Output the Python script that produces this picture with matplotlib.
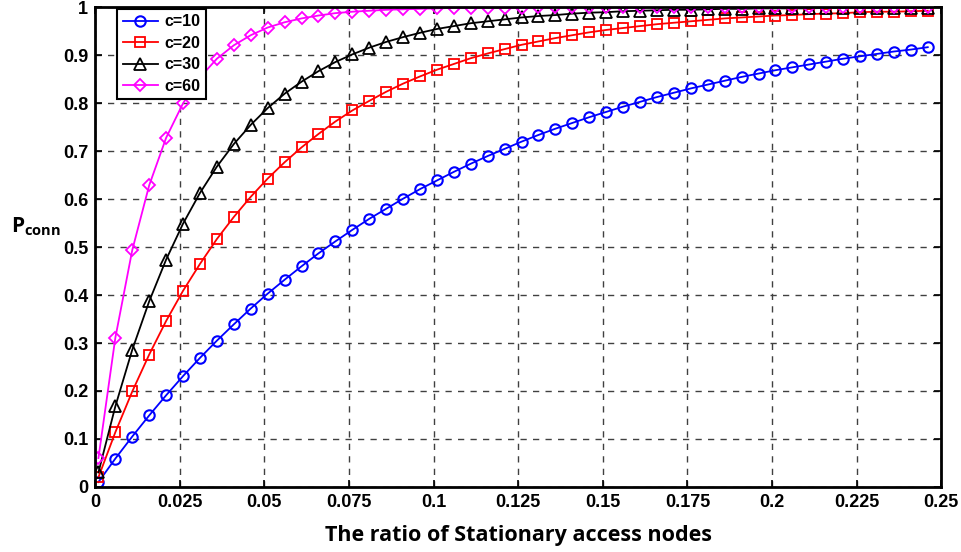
import matplotlib
matplotlib.use("Agg")
import matplotlib.pyplot as plt

# ratio of stationary access nodes (x samples)
ratio = [0.001, 0.006, 0.011, 0.016, 0.021, 0.026, 0.031, 0.036, 0.041, 0.046,
         0.051, 0.056, 0.061, 0.066, 0.071, 0.076, 0.081, 0.086, 0.091, 0.096,
         0.101, 0.106, 0.111, 0.116, 0.121, 0.126, 0.131, 0.136, 0.141, 0.146,
         0.151, 0.156, 0.161, 0.166, 0.171, 0.176, 0.181, 0.186, 0.191, 0.196,
         0.201, 0.206, 0.211, 0.216, 0.221, 0.226, 0.231, 0.236, 0.241, 0.246]

p_c10 = [0.010, 0.059, 0.105, 0.149, 0.191, 0.231, 0.269, 0.305, 0.339, 0.372,
         0.403, 0.432, 0.460, 0.487, 0.512, 0.536, 0.559, 0.580, 0.601, 0.621,
         0.639, 0.657, 0.674, 0.690, 0.705, 0.720, 0.734, 0.747, 0.759, 0.771,
         0.782, 0.793, 0.803, 0.813, 0.822, 0.831, 0.839, 0.847, 0.855, 0.862,
         0.869, 0.875, 0.881, 0.887, 0.893, 0.898, 0.903, 0.908, 0.912, 0.917]

p_c20 = [0.020, 0.114, 0.199, 0.276, 0.346, 0.409, 0.465, 0.517, 0.563, 0.605,
         0.643, 0.677, 0.708, 0.736, 0.762, 0.785, 0.805, 0.824, 0.841, 0.856,
         0.870, 0.882, 0.894, 0.904, 0.913, 0.922, 0.929, 0.936, 0.942, 0.948,
         0.953, 0.957, 0.961, 0.965, 0.968, 0.971, 0.974, 0.977, 0.979, 0.981,
         0.983, 0.984, 0.986, 0.987, 0.988, 0.990, 0.991, 0.991, 0.992, 0.993]

p_c30 = [0.030, 0.168, 0.286, 0.387, 0.474, 0.549, 0.613, 0.668, 0.715, 0.755,
         0.790, 0.820, 0.845, 0.867, 0.886, 0.902, 0.916, 0.928, 0.938, 0.947,
         0.955, 0.961, 0.967, 0.971, 0.975, 0.979, 0.982, 0.984, 0.987, 0.989,
         0.990, 0.992, 0.993, 0.994, 0.995, 0.995, 0.996, 0.997, 0.997, 0.998,
         0.998, 0.998, 0.998, 0.999, 0.999, 0.999, 0.999, 0.999, 0.999, 0.999]

p_c60 = [0.060, 0.311, 0.494, 0.629, 0.728, 0.800, 0.854, 0.893, 0.921, 0.942,
         0.958, 0.969, 0.977, 0.983, 0.988, 0.991, 0.993, 0.995, 0.996, 0.997,
         0.998, 0.999, 0.999, 0.999, 0.999, 0.999, 1.000, 1.000, 1.000, 1.000,
         1.000, 1.000, 1.000, 1.000, 1.000, 1.000, 1.000, 1.000, 1.000, 1.000,
         1.000, 1.000, 1.000, 1.000, 1.000, 1.000, 1.000, 1.000, 1.000, 1.000]

xticks = [0, 0.025, 0.05, 0.075, 0.1, 0.125, 0.15, 0.175, 0.2, 0.225, 0.25]
xticklabels = ["0", "0.025", "0.05", "0.075", "0.1", "0.125", "0.15", "0.175", "0.2", "0.225", "0.25"]
yticks = [0, 0.1, 0.2, 0.3, 0.4, 0.5, 0.6, 0.7, 0.8, 0.9, 1]
yticklabels = ["0", "0.1", "0.2", "0.3", "0.4", "0.5", "0.6", "0.7", "0.8", "0.9", "1"]

plt.rcParams['mathtext.fontset'] = 'custom'
plt.rcParams['mathtext.bf'] = 'Open Sans:bold'
plt.rcParams['mathtext.rm'] = 'Open Sans:bold'

fig = plt.figure(figsize=(9.61, 5.52), dpi=100)
ax = fig.add_axes([0.0989, 0.118, 0.8806, 0.8686])

ax.plot(ratio, p_c10, '-o', color='#0000ff', lw=1.3, ms=7.5, mfc='none', mew=1.5, label='c=10')
ax.plot(ratio, p_c20, '-s', color='#ff0000', lw=1.3, ms=6.5, mfc='none', mew=1.3, label='c=20')
ax.plot(ratio, p_c30, '-^', color='black', lw=1.3, ms=8, mfc='none', mew=1.3, label='c=30')
ax.plot(ratio, p_c60, '-D', color='#ff00ff', lw=1.3, ms=6.5, mfc='none', mew=1.3, label='c=60')

ax.set_xlim(0, 0.25)
ax.set_ylim(0, 1)
ax.set_xticks(xticks)
ax.set_xticklabels(xticklabels)
ax.set_yticks(yticks)
ax.set_yticklabels(yticklabels)
for lab in ax.get_xticklabels() + ax.get_yticklabels():
    lab.set_fontfamily('Liberation Sans')
    lab.set_fontweight('bold')
    lab.set_fontsize(13)
ax.tick_params(direction='in', length=5, width=1.2, top=True, right=True, pad=5)
ax.grid(True, color='0.25', linestyle=(0, (4.5, 4.5)), linewidth=1.0)
for s in ax.spines.values():
    s.set_linewidth(2)

ax.set_xlabel('The ratio of Stationary access nodes', fontfamily='Open Sans',
              fontweight='bold', fontsize=15.5, labelpad=10)
fig.text(0.011, 0.59, r'$\mathbf{P}_{\mathbf{conn}}$', fontsize=15, ha='left', va='center')

leg = ax.legend(loc='upper left', bbox_to_anchor=(0.122, 0.984), bbox_transform=fig.transFigure,
                frameon=True, fancybox=False, framealpha=1, edgecolor='black',
                prop={'family': 'Liberation Sans', 'weight': 'bold', 'size': 11.5},
                handlelength=2.2, borderpad=0.35, labelspacing=0.4, handletextpad=0.4, borderaxespad=0)
leg.get_frame().set_linewidth(1.5)

fig.savefig('out.png', dpi=100)
